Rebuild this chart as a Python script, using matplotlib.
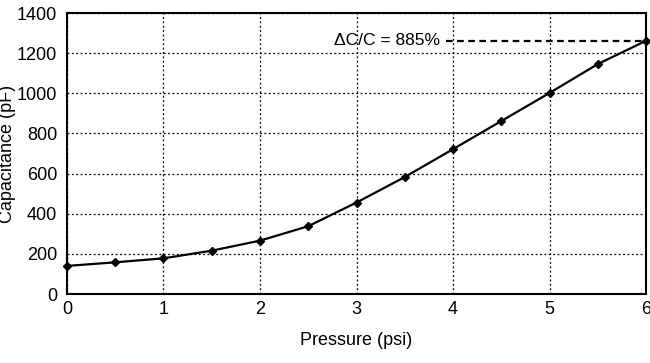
"""Capacitance versus applied pressure for the sensor."""

import matplotlib
matplotlib.use("Agg")
import matplotlib.pyplot as plt

pressure = [0, 0.5, 1, 1.5, 2, 2.5, 3, 3.5, 4, 4.5, 5, 5.5, 6]
capacitance = [140, 158, 178, 216, 266, 338, 456, 583, 722, 862, 1002, 1146, 1262]
x_ticks = [0, 1, 2, 3, 4, 5, 6]
y_ticks = [0, 200, 400, 600, 800, 1000, 1200, 1400]
annotation = "ΔC/C = 885%"


def main() -> None:
    plt.rcParams["font.family"] = ["Liberation Sans", "DejaVu Sans"]

    fig = plt.figure(figsize=(6.5, 3.63), dpi=100)
    ax = fig.add_axes([0.103, 0.19, 0.891, 0.774])

    ax.plot(pressure, capacitance, color="black", lw=1.6, marker="D",
            markersize=4.5, zorder=3, clip_on=False)

    # dashed guide to the final value
    ax.plot([3.93, pressure[-1]], [capacitance[-1], capacitance[-1]],
            color="black", lw=1.6, ls=(0, (3, 2)), zorder=3)
    ax.text(3.86, capacitance[-1] + 2, annotation, ha="right", va="center",
            fontsize=12.5)

    ax.set_xlim(0, 6)
    ax.set_ylim(0, 1400)
    ax.set_xticks(x_ticks)
    ax.set_yticks(y_ticks)
    ax.tick_params(length=0, labelsize=13)
    ax.tick_params(axis="y", pad=7)
    ax.tick_params(axis="x", pad=5)
    ax.grid(True, color="black", ls=(0, (1.5, 2)), lw=0.9)
    for spine in ax.spines.values():
        spine.set_linewidth(1.5)

    ax.set_xlabel("Pressure (psi)", fontsize=13, va="center")
    ax.xaxis.set_label_coords(0.5, -0.167)
    ax.set_ylabel("Capacitance (pF)", fontsize=13)
    ax.yaxis.set_label_coords(-0.088, 0.5)

    fig.savefig("out.png", dpi=100)


if __name__ == "__main__":
    main()
